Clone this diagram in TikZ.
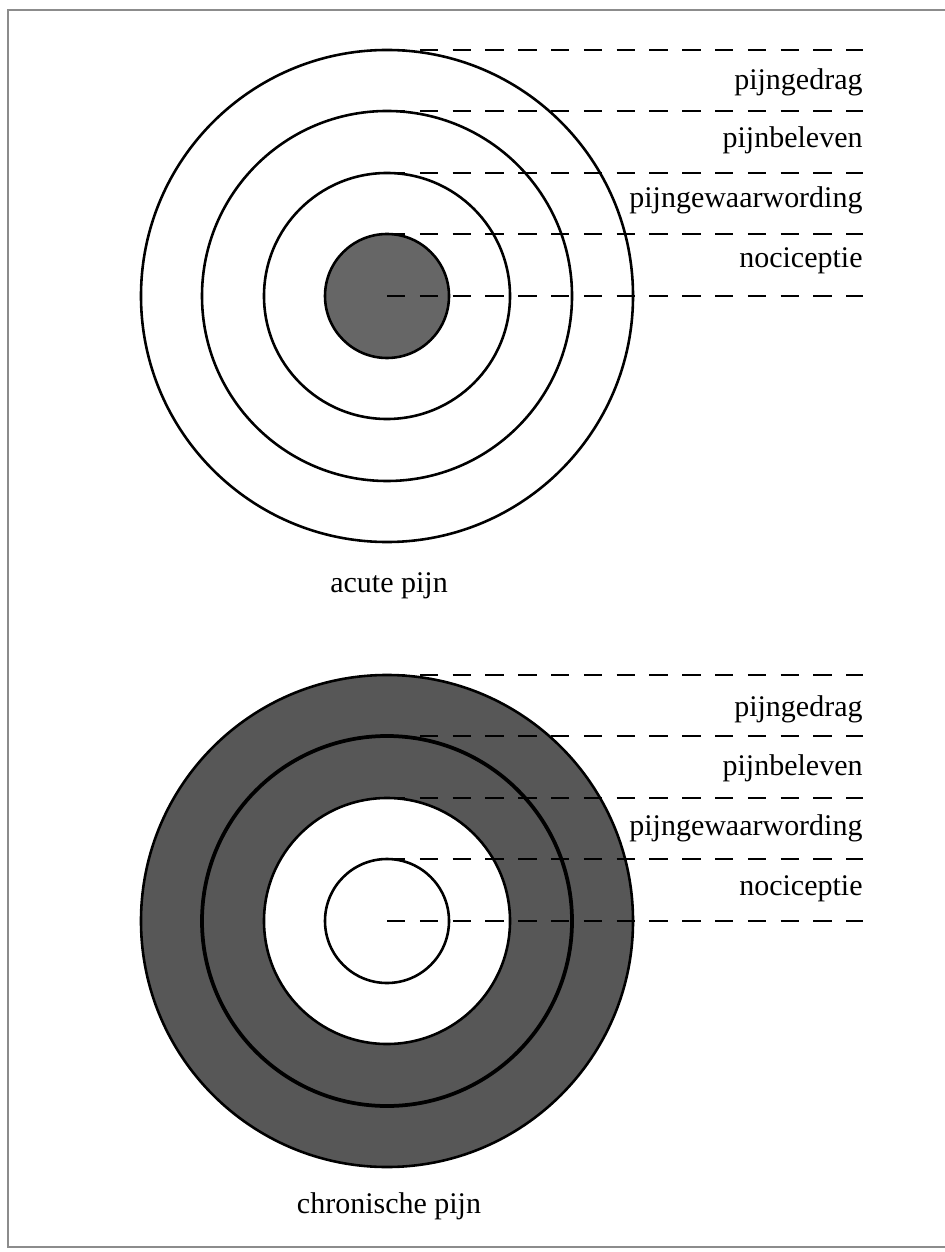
\documentclass[tikz,border=0pt]{standalone}
\usepackage{fontspec}
\setmainfont{Liberation Serif}
\definecolor{ringgray}{gray}{0.34}
\definecolor{coregray}{gray}{0.40}
\definecolor{framegray}{gray}{0.55}

\begin{document}
\begin{tikzpicture}[x=0.015cm, y=-0.015cm,
        ring/.style = {draw, circle, line width=1.1pt, inner sep=0pt, outer sep=0pt},
        level/.style = {line width=1pt, dash pattern=on 7.8pt off 6.2pt},
        tag/.style = {anchor=base east, inner sep=0pt, font=\fontsize{12.8}{15}\selectfont},
        caption/.style = {anchor=base, inner sep=0pt, font=\fontsize{12.8}{15}\selectfont}]
    \useasboundingbox (0,0) rectangle (945,1252);
    \draw[framegray, line width=0.8pt] (945,10) -- (8,10) -- (8,1247) -- (945,1247);

    \coordinate (endx) at (863,0);

    % acute pijn
    \node[ring] (a4) [minimum size=7.38cm] at (387,296) {};
    \node[ring] (a3) [minimum size=5.55cm] at (387,296) {};
    \node[ring] (a2) [minimum size=3.69cm] at (387,296) {};
    \node[ring, fill=coregray] (a1) [minimum size=1.86cm] at (387,296) {};

    \draw[level] (a4.north) -- (a4.north -| endx);
    \draw[level] (a3.north) -- (a3.north -| endx);
    \draw[level] (a2.north) -- (a2.north -| endx);
    \draw[level] (a1.north) -- (a1.north -| endx);
    \draw[level] (a1.center) -- (a1.center -| endx);

    \node[tag] (at4) at (863,90) {pijngedrag};
    \node[tag] (at3) at (863,148) {pijnbeleven};
    \node[tag] (at2) at (863,208) {pijngewaarwording};
    \node[tag] (at1) at (863,268) {nociceptie};
    \node[caption] (acap) at (389,592) {acute pijn};

    % chronische pijn
    \node[ring, fill=ringgray] (c4) [minimum size=7.38cm] at (387,921) {};
    \node[ring, line width=1.6pt] (c3) [minimum size=5.55cm] at (387,921) {};
    \node[ring, fill=white] (c2) [minimum size=3.69cm] at (387,921) {};
    \node[ring] (c1) [minimum size=1.86cm] at (387,921) {};

    \draw[level] (c4.north) -- (c4.north -| endx);
    \draw[level] (c3.north) -- (c3.north -| endx);
    \draw[level] (c2.north) -- (c2.north -| endx);
    \draw[level] (c1.north) -- (c1.north -| endx);
    \draw[level] (c1.center) -- (c1.center -| endx);

    \node[tag] (ct4) at (863,716) {pijngedrag};
    \node[tag] (ct3) at (863,775) {pijnbeleven};
    \node[tag] (ct2) at (863,835) {pijngewaarwording};
    \node[tag] (ct1) at (863,895) {nociceptie};
    \node[caption] (ccap) at (389,1213) {chronische pijn};
\end{tikzpicture}
\end{document}
